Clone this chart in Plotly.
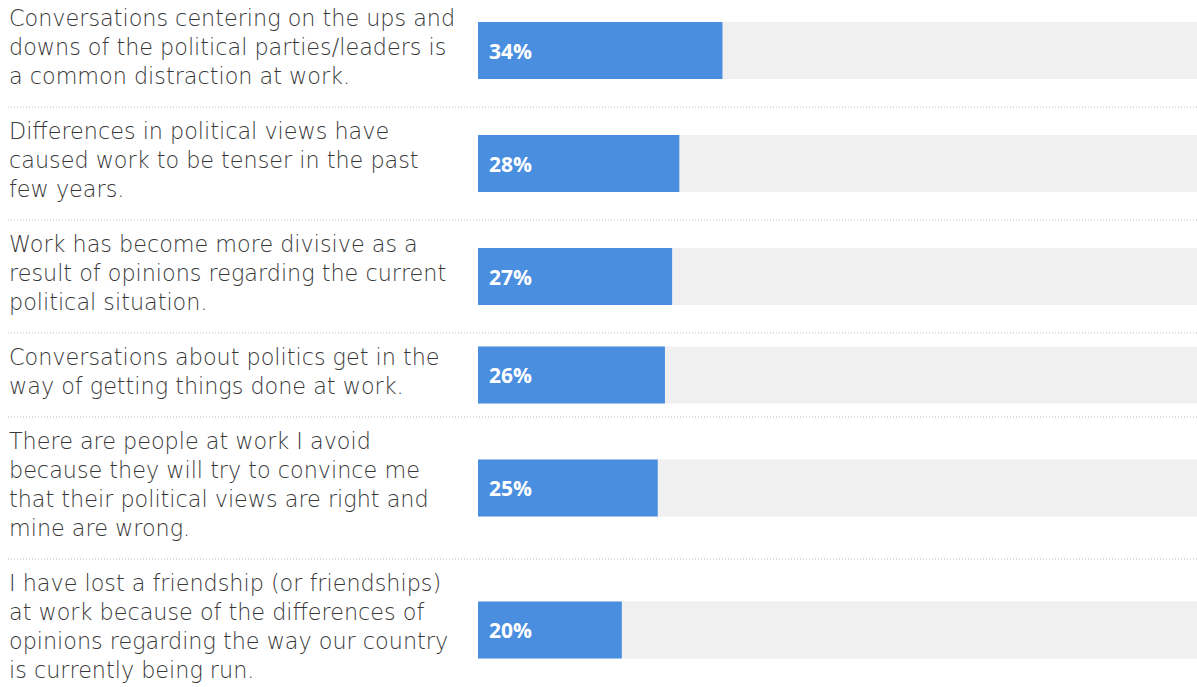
import plotly.graph_objects as go

labels = [
    "Conversations centering on the ups and<br>downs of the political parties/leaders is<br>a common distraction at work.",
    "Differences in political views have<br>caused work to be tenser in the past<br>few years.",
    "Work has become more divisive as a<br>result of opinions regarding the current<br>political situation.",
    "Conversations about politics get in the<br>way of getting things done at work.",
    "There are people at work I avoid<br>because they will try to convince me<br>that their political views are right and<br>mine are wrong.",
    "I have lost a friendship (or friendships)<br>at work because of the differences of<br>opinions regarding the way our country<br>is currently being run.",
]
values = [34, 28, 27, 26, 25, 20]
full_scale = [100] * len(values)
value_labels = [f"{v}%" for v in values]

W, H = 1197, 687
LINE_H = 29
PAD = 26
TOP = -6
BAR_W = 57
LABEL_SIZE = LINE_H / 1.3  # plotly line spacing is 1.3 em

# row layout derived from number of label lines
centers, bottoms = [], []
cur = TOP
for lab in labels:
    n = lab.count("<br>") + 1
    h = n * LINE_H + PAD
    centers.append(cur + h / 2)
    cur += h
    bottoms.append(cur)

fig = go.Figure()
fig.add_trace(go.Bar(
    y=centers, x=full_scale, orientation="h", width=BAR_W,
    marker=dict(color="#f0f0f0", line=dict(width=0)),
    hoverinfo="skip", showlegend=False,
))
fig.add_trace(go.Bar(
    y=centers, x=values, orientation="h", width=BAR_W,
    marker=dict(color="#4a8ee0", line=dict(width=0)),
    hovertemplate="%{x}%<extra></extra>",
    showlegend=False,
))

annotations = []
for lab, c in zip(labels, centers):
    annotations.append(dict(
        xref="paper", yref="y", x=7 / W, y=c - 4, text=lab,
        xanchor="left", yanchor="middle", showarrow=False, align="left",
        font=dict(family="DejaVu Sans", size=LABEL_SIZE, color="#383838", weight=300),
    ))

for vl, c in zip(value_labels, centers):
    annotations.append(dict(
        xref="x", yref="y", x=0, y=c, text=vl, xshift=9,
        xanchor="left", yanchor="middle", showarrow=False,
        font=dict(family="Open Sans", size=21, color="white", weight="bold"),
    ))

shapes = []
for b in bottoms[:-1]:
    shapes.append(dict(
        type="line", xref="paper", yref="y", x0=8 / W, x1=1, y0=b, y1=b,
        line=dict(color="#bdbdbd", width=1, dash="1px,2px"),
    ))

fig.update_layout(
    width=W, height=H,
    margin=dict(l=0, r=0, t=0, b=0),
    paper_bgcolor="white", plot_bgcolor="white",
    barmode="overlay",
    xaxis=dict(domain=[478 / W, 1], range=[0, 100], visible=False, fixedrange=True),
    yaxis=dict(range=[H, 0], visible=False, fixedrange=True),
    annotations=annotations, shapes=shapes,
)

fig.write_html("out.html", config={"displayModeBar": False})
